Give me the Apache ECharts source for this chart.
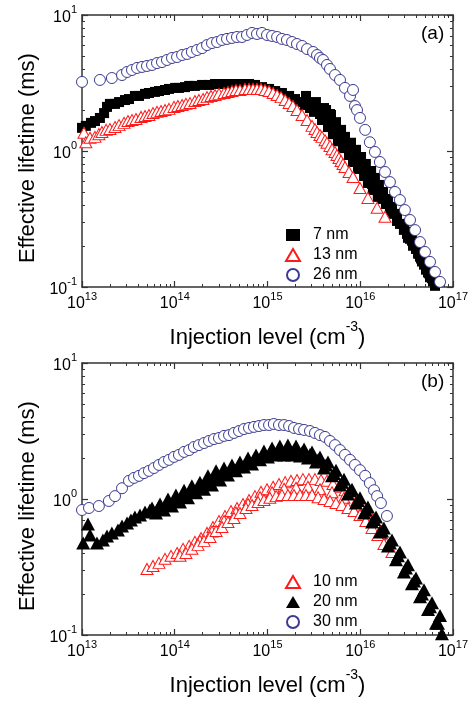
<!DOCTYPE html>
<html><head><meta charset="utf-8">
<script src="https://cdn.jsdelivr.net/npm/echarts@6/dist/echarts.min.js"></script>
<style>html,body{margin:0;padding:0;background:#fff}#c{width:471px;height:702px}</style>
</head><body><div id="c"></div>
<script>
// ---- axis ticks ----
const xTickValues = [1e13, 1e14, 1e15, 1e16, 1e17];
const xTickExps = ['13', '14', '15', '16', '17'];
const yTickValues = [0.1, 1, 10];
const yTickExps = ['-1', '0', '1'];
const minorMult = [2, 3, 4, 5, 6, 7, 8, 9];

// ---- panel (a) ----
const a7nm = [[1.00e13,1.48],[1.10e13,1.53],[1.25e13,1.61],[1.38e13,1.66],[1.56e13,1.75],[1.73e13,1.90],[1.86e13,2.11],[2.00e13,2.22],[2.27e13,2.22],[2.51e13,2.29],[2.91e13,2.37],[3.21e13,2.41],[3.72e13,2.54],[4.12e13,2.54],[4.78e13,2.63],[5.27e13,2.67],[6.12e13,2.72],[6.76e13,2.76],[7.85e13,2.81],[8.67e13,2.86],[1.01e14,2.91],[1.11e14,2.91],[1.29e14,2.95],[1.43e14,3.01],[1.65e14,3.01],[1.97e14,3.06],[2.34e14,3.06],[2.72e14,3.11],[3.23e14,3.11],[3.85e14,3.11],[4.47e14,3.11],[5.31e14,3.11],[6.32e14,3.11],[7.33e14,3.06],[8.73e14,2.95],[1.04e15,2.86],[1.21e15,2.76],[1.43e15,2.67],[1.71e15,2.54],[1.98e15,2.41],[2.24e15,2.29],[2.54e15,2.18],[2.87e15,2.07],[3.25e15,1.97],[3.68e15,1.87],[4.28e15,2.00],[4.72e15,1.87],
[2.60e15,2.54],[3.33e15,2.29],[2.87e15,2.14],[4.07e15,2.07],[3.17e15,1.94],[4.84e15,1.84],[3.87e15,1.69],[5.48e15,1.63],[4.49e15,1.50],[6.21e15,1.43],[5.08e15,1.33],[6.85e15,1.27],[5.75e15,1.18],[7.95e15,1.15],[6.52e15,1.05],[9.00e15,1.02],[7.57e15,0.934],[1.02e16,0.903],[8.36e15,0.830],[1.15e16,0.803],[9.46e15,0.738],[1.31e16,0.713],[1.10e16,0.655],[1.44e16,0.634],[1.21e16,0.582],[1.59e16,0.563],[1.37e16,0.517],[1.76e16,0.500],[1.55e16,0.460],[1.99e16,0.444],[1.90e16,0.408],[2.20e16,0.388],[2.20e16,0.357],[2.49e16,0.339],[2.49e16,0.306],[2.82e16,0.291],[2.96e16,0.263],[3.27e16,0.255],[3.27e16,0.230],[3.61e16,0.219],[3.71e16,0.201],[3.99e16,0.191],[4.20e16,0.176],[4.41e16,0.167],[4.63e16,0.154],[4.87e16,0.146],[5.12e16,0.134],[5.38e16,0.128],[5.65e16,0.118],[6.09e16,0.110],[6.40e16,0.102],[6.73e16,0.097],
[3.17e15,2.22],[3.51e15,2.04],[3.87e15,1.87],[4.28e15,1.72],[4.60e15,1.58],[5.08e15,1.45],[5.75e15,1.33],[6.36e15,1.23],[7.02e15,1.13],[7.76e15,1.03],[8.36e15,0.950],[9.00e15,0.873],[9.70e15,0.803],[1.07e16,0.738],[1.15e16,0.678],[1.24e16,0.623],[1.34e16,0.573],[1.44e16,0.526],[1.55e16,0.484],[1.72e16,0.444],[1.90e16,0.408],[2.09e16,0.375],[2.31e16,0.345],[2.49e16,0.317],[2.68e16,0.291],[2.96e16,0.268],[3.19e16,0.246],[3.44e16,0.226],[3.71e16,0.208],[3.99e16,0.191],[4.30e16,0.176],[4.52e16,0.162],[4.87e16,0.149],[5.12e16,0.137],[5.51e16,0.126],[5.94e16,0.116],[6.40e16,0.106]];

const a13nm = [[1.05e13,1.36],[1.10e13,1.16],[1.22e13,1.25],[1.38e13,1.27],[1.52e13,1.33],[1.64e13,1.38],[1.82e13,1.43],[2.00e13,1.45],[2.27e13,1.50],[2.51e13,1.55],[2.84e13,1.61],[3.13e13,1.66],[3.46e13,1.69],[3.82e13,1.72],[4.33e13,1.78],[4.78e13,1.81],[5.27e13,1.84],[5.83e13,1.90],[6.44e13,1.94],[7.11e13,1.97],[7.85e13,2.00],[8.67e13,2.04],[9.82e13,2.11],[1.08e14,2.14],[1.20e14,2.18],[1.32e14,2.22],[1.46e14,2.25],[1.65e14,2.33],[1.82e14,2.37],[2.02e14,2.41],[2.23e14,2.49],[2.46e14,2.54],[2.72e14,2.58],[3.00e14,2.63],[3.40e14,2.67],[3.75e14,2.72],[4.14e14,2.76],[4.57e14,2.81],[5.05e14,2.81],[5.72e14,2.86],[6.32e14,2.86],[6.98e14,2.86],[7.71e14,2.86],[8.51e14,2.86],[9.40e14,2.81],[1.04e15,2.76],[1.15e15,2.67],[1.27e15,2.58],[1.40e15,2.49],[1.55e15,2.37],[1.71e15,2.25],[1.88e15,2.14],[2.08e15,2.00],[2.36e15,1.84],[2.67e15,1.69],[3.02e15,1.53],[3.25e15,1.45],[3.42e15,1.38],[3.68e15,1.31],[3.87e15,1.27],[4.17e15,1.20],[4.38e15,1.15],[4.72e15,1.09],[4.96e15,1.03],[5.35e15,0.983],[5.61e15,0.934],[5.90e15,0.888],[6.21e15,0.844],[6.52e15,0.803],[6.85e15,0.763],[7.57e15,0.701],[8.36e15,0.644],[9.94e15,0.535],[1.21e16,0.452],[1.52e16,0.382],[1.85e16,0.328]];

const a26nm = [[1.00e13,3.22],[1.56e13,3.33],[2.10e13,3.44],[2.70e13,3.62],[3.06e13,3.81],[3.46e13,3.94],[3.92e13,4.08],[4.44e13,4.15],[5.02e13,4.22],[5.69e13,4.29],[6.44e13,4.43],[7.29e13,4.51],[8.25e13,4.67],[9.34e13,4.83],[1.06e14,4.91],[1.20e14,5.08],[1.36e14,5.17],[1.53e14,5.35],[1.74e14,5.53],[1.97e14,5.71],[2.23e14,6.01],[2.52e14,6.22],[2.86e14,6.33],[3.23e14,6.55],[3.66e14,6.67],[4.14e14,6.78],[4.69e14,6.89],[5.31e14,6.89],[6.01e14,7.13],[6.81e14,7.38],[7.71e14,7.25],[8.73e14,7.38],[9.88e14,7.13],[1.12e15,7.01],[1.27e15,6.89],[1.43e15,6.67],[1.62e15,6.55],[1.84e15,6.33],[2.08e15,6.12],[2.36e15,5.92],[2.67e15,5.62],[3.10e15,5.35],[3.42e15,5.08],[3.68e15,4.83],[3.97e15,4.67],[4.38e15,4.29],[4.72e15,4.01],[5.35e15,3.62],[6.05e15,3.33],[6.85e15,2.91],[7.76e15,2.54],[8.36e15,2.81],[8.78e15,2.14],[9.23e15,2.00],[9.94e15,1.75],[1.13e16,1.43],[1.27e16,1.16],[1.44e16,0.984],[1.63e16,0.830],[1.85e16,0.701],[2.09e16,0.591],[2.37e16,0.500],[2.68e16,0.436],[3.03e16,0.368],[3.44e16,0.311],[3.90e16,0.262],[4.41e16,0.214],[4.99e16,0.181],[5.65e16,0.153],[6.40e16,0.129],[7.25e16,0.109],[8.00e16,0.098]];

// ---- panel (b) ----
const b10nm = [[5.02e13,0.306],[5.83e13,0.322],[6.76e13,0.339],[7.85e13,0.363],[9.12e13,0.382],[1.06e14,0.401],[1.23e14,0.430],[1.43e14,0.452],[1.65e14,0.484],[1.92e14,0.517],[2.23e14,0.563],[2.58e14,0.623],[3.00e14,0.689],[3.48e14,0.750],[4.04e14,0.816],[4.69e14,0.859],[5.44e14,0.919],[6.32e14,0.983],[7.33e14,1.05],[8.51e14,1.13],[9.88e14,1.18],[1.15e15,1.23],[1.33e15,1.29],[1.55e15,1.33],[1.79e15,1.36],[2.08e15,1.38],[2.41e15,1.40],[2.80e15,1.40],[3.25e15,1.40],[3.78e15,1.38],[4.38e15,1.36],[5.08e15,1.29],[5.90e15,1.23],[6.85e15,1.16],[7.95e15,1.09],[9.23e15,0.983],[1.07e16,0.888],[1.24e16,0.789],[1.44e16,0.678],[1.67e16,0.582],[1.94e16,0.475],[2.20e16,0.408],
[1.87e14,0.492],[2.52e14,0.577],[3.40e14,0.689],[4.57e14,0.796],[6.17e14,0.919],[8.30e14,1.03],[1.12e15,1.12],[1.51e15,1.19],[2.03e15,1.21],[2.73e15,1.23],[3.68e15,1.18],[4.96e15,1.12],[6.68e15,1.02],[9.00e15,0.895],[1.21e16,0.732],[1.63e16,0.554],
[1.14e14,0.382],[1.32e14,0.401],[1.53e14,0.430],[1.78e14,0.460],[2.07e14,0.492],[2.40e14,0.526],[2.79e14,0.582],[3.23e14,0.623],[3.75e14,0.678],[4.35e14,0.725],[5.05e14,0.789],[5.86e14,0.859],[6.81e14,0.903],[7.91e14,0.950],[9.16e14,0.983],[1.06e15,1.02],[1.24e15,1.05],[1.43e15,1.07],[1.66e15,1.07],[1.93e15,1.07],[2.24e15,1.07],[2.60e15,1.07],[3.02e15,1.07],[3.51e15,1.03],[4.07e15,1.00],[4.72e15,0.967],[5.48e15,0.934],[6.36e15,0.903],[7.38e15,0.859],[8.57e15,0.816],[9.94e15,0.763],[1.15e16,0.689],[1.34e16,0.613],[1.55e16,0.544],[1.80e16,0.467]];

const b20nm = [[1.03e13,0.475],[1.16e13,0.655],[1.22e13,0.544],[1.45e13,0.475],[1.68e13,0.500],[1.86e13,0.535],[2.10e13,0.563],[2.44e13,0.592],[2.70e13,0.634],[3.06e13,0.667],[3.37e13,0.701],[3.72e13,0.738],[4.22e13,0.763],[4.78e13,0.803],[5.41e13,0.830],
[5.69e13,0.859],[6.94e13,0.919],[8.46e13,1.00],[1.03e14,1.07],[1.26e14,1.16],[1.53e14,1.25],[1.87e14,1.33],[2.28e14,1.48],[2.79e14,1.61],[3.40e14,1.69],[4.14e14,1.78],[5.05e14,1.87],[6.17e14,2.00],[7.52e14,2.11],[9.16e14,2.25],[1.12e15,2.37],[1.36e15,2.45],[1.66e15,2.49],[2.03e15,2.45],[2.48e15,2.33],[3.02e15,2.22],[3.68e15,2.04],[4.49e15,1.87],[5.48e15,1.63],[6.68e15,1.40],[8.15e15,1.18],[9.94e15,1.02],[1.21e16,0.873],[1.48e16,0.738],[1.80e16,0.613],[2.20e16,0.500],[2.68e16,0.408],[3.27e16,0.328],[3.99e16,0.263],[4.87e16,0.215],[5.94e16,0.173],[7.25e16,0.139],
[6.59e13,0.851],[8.05e13,0.903],[9.82e13,0.975],[1.20e14,1.05],[1.46e14,1.13],[1.78e14,1.21],[2.17e14,1.32],[2.65e14,1.44],[3.23e14,1.54],[3.95e14,1.63],[4.81e14,1.73],[5.86e14,1.84],[7.15e14,1.95],[8.73e14,2.07],[1.06e15,2.18],[1.30e15,2.27],[1.58e15,2.27],[1.93e15,2.27],[2.36e15,2.20],[2.87e15,2.12],[3.51e15,1.94],[4.28e15,1.78],[5.21e15,1.54],[6.36e15,1.33],[7.76e15,1.15],[9.46e15,0.975],[1.15e16,0.830],[1.41e16,0.707],[1.72e16,0.582],[2.09e16,0.475],[2.55e16,0.382],[3.11e16,0.311],[3.80e16,0.250],[4.63e16,0.200],[5.65e16,0.161],[6.89e16,0.122],
[6.28e13,0.789],[7.66e13,0.830],[9.34e13,0.888],[1.14e14,0.950],[1.39e14,1.02],[1.70e14,1.11],[2.07e14,1.18],[2.52e14,1.27],[3.08e14,1.38],[3.75e14,1.50],[4.57e14,1.61],[5.58e14,1.72],[6.81e14,1.81],[8.30e14,1.94],[1.01e15,2.04],[1.24e15,2.11],[1.51e15,2.11],[1.84e15,2.11],[2.24e15,2.07],[2.73e15,2.00],[3.33e15,1.87],[4.07e15,1.69],[4.96e15,1.48],[6.05e15,1.27],[7.38e15,1.09],[9.00e15,0.934],[1.10e16,0.789],[1.34e16,0.678],[1.63e16,0.573],[1.99e16,0.452],[2.43e16,0.357],[2.96e16,0.291],[3.61e16,0.238],[4.41e16,0.191],[5.38e16,0.154],[6.56e16,0.122],[7.60e16,0.102]];

const b30nm = [[1.00e13,0.830],[1.19e13,0.859],[1.52e13,0.888],[1.95e13,0.967],[2.27e13,1.05],[2.70e13,1.20],[3.21e13,1.36],[3.64e13,1.43],[4.12e13,1.48],[4.66e13,1.55],[5.27e13,1.61],[5.97e13,1.69],[6.76e13,1.78],[7.66e13,1.87],[8.67e13,1.94],[9.82e13,2.04],[1.11e14,2.11],[1.26e14,2.22],[1.43e14,2.29],[1.61e14,2.41],[1.82e14,2.49],[2.07e14,2.58],[2.34e14,2.67],[2.65e14,2.76],[3.00e14,2.81],[3.40e14,2.91],[3.85e14,2.95],[4.35e14,3.06],[4.93e14,3.16],[5.58e14,3.27],[6.32e14,3.33],[7.15e14,3.39],[8.09e14,3.44],[9.16e14,3.50],[1.04e15,3.50],[1.17e15,3.56],[1.33e15,3.50],[1.51e15,3.50],[1.71e15,3.44],[1.93e15,3.33],[2.19e15,3.27],[2.48e15,3.22],[2.87e15,3.16],[3.25e15,3.06],[3.68e15,2.95],[4.17e15,2.86],[4.72e15,2.67],[5.35e15,2.49],[6.05e15,2.29],[6.85e15,2.11],[7.76e15,1.94],[8.78e15,1.78],[9.94e15,1.63],[1.13e16,1.48],[1.27e16,1.31],[1.41e16,1.16],[1.52e16,1.05],[1.67e16,0.934],[1.94e16,0.750]];

const FONT = '"Liberation Sans", Arial, sans-serif';
const AX = '#333';
const RED = '#ff1a1a';
const NAVY = '#3b3b92';

function minorOf(vals) {
  const out = [];
  for (let i = 0; i < vals.length - 1; i++) for (const m of minorMult) out.push(vals[i] * m);
  return out;
}
const xMinor = minorOf(xTickValues);
const yMinor = minorOf(yTickValues);

function expLabel(v, vals, exps) {
  for (let i = 0; i < vals.length; i++) if (Math.abs(v / vals[i] - 1) < 1e-6) return '{b|10}{s|' + exps[i] + '}';
  return '';
}
const richTick = {
  b: { fontSize: 16, fontFamily: FONT, color: '#000', padding: [5, 0, 0, 0], verticalAlign: 'bottom' },
  s: { fontSize: 11, fontFamily: FONT, color: '#000', verticalAlign: 'top' }
};
const richName = {
  t: { fontSize: 22, fontFamily: FONT, color: '#000', padding: [7, 0, 0, 0], verticalAlign: 'bottom' },
  s: { fontSize: 14, fontFamily: FONT, color: '#000', verticalAlign: 'top' }
};

function xAxes(grid) {
  const base = { type: 'log', logBase: 10, gridIndex: grid, min: xTickValues[0], max: xTickValues[xTickValues.length - 1],
    splitLine: { show: false }, axisLine: { show: true, onZero: false, lineStyle: { color: AX, width: 1.5 } } };
  const major = { show: true, inside: true, length: 6, customValues: xTickValues, lineStyle: { color: AX, width: 1.2 } };
  const minor = { show: true, inside: true, length: 3, customValues: xMinor, lineStyle: { color: AX, width: 1 } };
  return [
    Object.assign({}, base, { position: 'bottom', axisTick: major,
      axisLabel: { show: true, customValues: xTickValues, margin: 4, formatter: v => expLabel(v, xTickValues, xTickExps), rich: richTick },
      name: '{t|Injection level (cm}{s|-3}{t|)}', nameLocation: 'middle', nameGap: 33, nameTextStyle: { rich: richName } }),
    Object.assign({}, base, { position: 'bottom', axisLine: { show: false }, axisTick: minor, axisLabel: { show: false } }),
    Object.assign({}, base, { position: 'top', axisTick: major, axisLabel: { show: false } }),
    Object.assign({}, base, { position: 'top', axisLine: { show: false }, axisTick: minor, axisLabel: { show: false } })
  ];
}
function yAxes(grid) {
  const base = { type: 'log', logBase: 10, gridIndex: grid, min: yTickValues[0], max: yTickValues[yTickValues.length - 1],
    splitLine: { show: false }, axisLine: { show: true, onZero: false, lineStyle: { color: AX, width: 1.5 } } };
  const major = { show: true, inside: true, length: 6, customValues: yTickValues, lineStyle: { color: AX, width: 1.2 } };
  const minor = { show: true, inside: true, length: 3, customValues: yMinor, lineStyle: { color: AX, width: 1 } };
  return [
    Object.assign({}, base, { position: 'left', axisTick: major,
      axisLabel: { show: true, customValues: yTickValues, margin: 5, formatter: v => expLabel(v, yTickValues, yTickExps), rich: richTick },
      name: 'Effective lifetime (ms)', nameLocation: 'middle', nameGap: 41,
      nameTextStyle: { fontSize: 22, fontFamily: FONT, color: '#000', padding: [0, 14, 0, 0] } }),
    Object.assign({}, base, { position: 'left', axisLine: { show: false }, axisTick: minor, axisLabel: { show: false } }),
    Object.assign({}, base, { position: 'right', axisTick: major, axisLabel: { show: false } }),
    Object.assign({}, base, { position: 'right', axisLine: { show: false }, axisTick: minor, axisLabel: { show: false } })
  ];
}

const sqStyle = { symbol: 'rect', symbolSize: 10, itemStyle: { color: '#000', opacity: 1 } };
const triFill = { symbol: 'triangle', symbolSize: [14, 13], itemStyle: { color: '#000', opacity: 1 } };
const triOpen = { symbol: 'triangle', symbolSize: [12, 11], itemStyle: { color: '#fff', borderColor: RED, borderWidth: 1, opacity: 1 } };
const circOpen = { symbol: 'circle', symbolSize: 11, itemStyle: { color: '#fff', borderColor: NAVY, borderWidth: 1, opacity: 1 } };

function ser(name, data, xi, yi, st) {
  return Object.assign({ type: 'scatter', name, data, xAxisIndex: xi, yAxisIndex: yi, emphasis: { disabled: true } }, st);
}

const legendText = { fontSize: 16, fontFamily: FONT, color: '#000', padding: [0, 0, 0, 8] };
const option = {
  animation: false,
  backgroundColor: '#fff',
  textStyle: { fontFamily: FONT },
  grid: [
    { left: 82, top: 15, width: 371, height: 272 },
    { left: 82, top: 363, width: 371, height: 272 }
  ],
  xAxis: xAxes(0).concat(xAxes(1)),
  yAxis: yAxes(0).concat(yAxes(1)),
  title: [
    { text: '(a)', left: 421, top: 24, padding: 0, textStyle: { fontSize: 19, fontWeight: 'normal', fontFamily: FONT, color: '#000' } },
    { text: '(b)', left: 421, top: 372, padding: 0, textStyle: { fontSize: 19, fontWeight: 'normal', fontFamily: FONT, color: '#000' } }
  ],
  legend: [
    { data: ['7 nm', '13 nm', '26 nm'], orient: 'vertical', left: 280, top: 222, itemWidth: 14, itemHeight: 12, itemGap: 4, selectedMode: false, textStyle: legendText },
    { data: ['10 nm', '20 nm', '30 nm'], orient: 'vertical', left: 280, top: 569, itemWidth: 14, itemHeight: 12, itemGap: 4, selectedMode: false, textStyle: legendText }
  ],
  series: [
    ser('7 nm', a7nm, 0, 0, sqStyle),
    ser('13 nm', a13nm, 0, 0, triOpen),
    ser('26 nm', a26nm, 0, 0, circOpen),
    ser('10 nm', b10nm, 4, 4, triOpen),
    ser('20 nm', b20nm, 4, 4, triFill),
    ser('30 nm', b30nm, 4, 4, circOpen)
  ]
};
const chart = echarts.init(document.getElementById('c'), null, { renderer: 'canvas', width: 471, height: 702 });
chart.setOption(option);
</script>
</body></html>
